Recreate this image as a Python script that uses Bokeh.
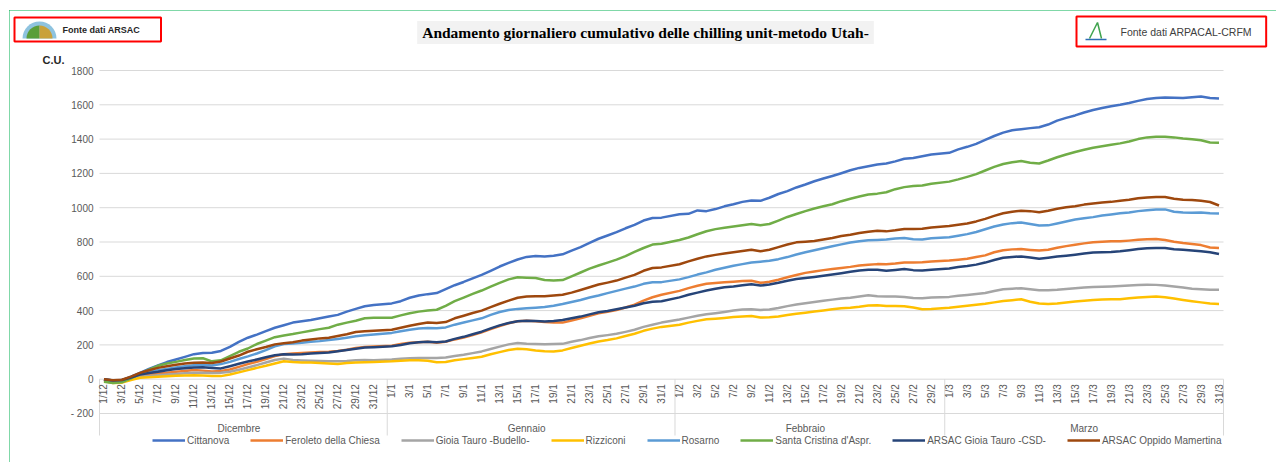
import math
from bokeh.plotting import figure
from bokeh.models import Range1d, Legend, LegendItem, Label
from bokeh.core.properties import value
from bokeh.embed import file_html
from bokeh.resources import INLINE

# ---------------- data ----------------
months = ["Dicembre", "Gennaio", "Febbraio", "Marzo"]
month_num = [12, 1, 2, 3]
month_len = [31, 31, 29, 31]

series_names = ["Cittanova", "Feroleto della Chiesa", "Gioia Tauro -Budello-", "Rizziconi",
                "Rosarno", "Santa Cristina d'Aspr.", "ARSAC Gioia Tauro -CSD-", "ARSAC Oppido Mamertina"]
series_colors = ["#4472C4", "#ED7D31", "#A5A5A5", "#FFC000",
                 "#5B9BD5", "#70AD47", "#264478", "#9E480E"]

cittanova = [0, -8, -5, 15, 37, 60, 80, 100, 115, 130, 146, 153, 154, 165, 189, 218, 242, 260, 280, 300,
             315, 330, 338, 345, 355, 365, 375, 394, 410, 425, 433,
             442, 455, 475, 488, 496, 502, 525, 548, 567, 588, 608, 632, 657, 678, 698, 713, 718, 716, 720,
             728, 750, 770, 795, 819, 838, 858, 880, 900, 925, 940, 942,
             962, 964, 984, 980, 992, 1008, 1020, 1034, 1042, 1040, 1058, 1080, 1097, 1118, 1135, 1154, 1170,
             1185, 1201, 1218, 1232, 1242, 1252, 1258, 1270, 1285, 1290, 1300, 1310,
             1320, 1340, 1355, 1372, 1395, 1418, 1438, 1452, 1458, 1464, 1469, 1485, 1508, 1524, 1538, 1555,
             1570, 1581, 1592, 1600, 1610, 1623, 1634, 1639, 1642, 1641, 1639, 1644, 1648, 1640, 1637]
feroleto = [-3, -15, -12, 5, 18, 26, 33, 38, 43, 48, 53, 50, 45, 48, 57, 72, 88, 102, 118, 135,
            146, 150, 153, 156, 158, 160, 165, 172, 182, 188, 190,
            195, 205, 212, 216, 218, 213, 218, 232, 243, 258, 273, 292, 310, 326, 338, 341, 338, 333, 330,
            330, 342, 355, 370, 384, 393, 403, 418, 435, 458, 478, 492,
            515, 531, 545, 556, 561, 565, 568, 572, 574, 562, 568, 580, 594, 608, 620, 628, 636, 643, 649,
            655, 663, 668, 671, 670, 674, 680, 681, 682, 686,
            692, 697, 702, 712, 722, 740, 752, 757, 759, 754, 750, 755, 766, 776, 784, 792, 798, 802, 805,
            804, 808, 813, 816, 817, 812, 802, 794, 788, 782, 768, 765]
gioia_budello = [-5, -18, -15, 0, 14, 19, 23, 27, 31, 34, 37, 38, 36, 38, 43, 55, 68, 82, 97, 112,
                 120, 112, 109, 107, 106, 105, 104, 106, 110, 112, 110,
                 115, 119, 122, 124, 123, 124, 127, 135, 142, 152, 162, 176, 190, 203, 211, 207, 205, 204,
                 205, 206, 218, 228, 240, 250, 257, 265, 276, 288, 305, 318, 330,
                 348, 359, 370, 379, 385, 392, 400, 406, 408, 404, 406, 415, 426, 435, 443, 450, 458, 464,
                 470, 475, 482, 490, 484, 482, 482, 479, 474, 472, 477,
                 480, 486, 491, 497, 503, 514, 524, 528, 531, 525, 518, 518, 521, 526, 531, 534, 537, 539,
                 541, 543, 546, 549, 551, 550, 547, 541, 535, 528, 524, 521, 521]
rizziconi = [-10, -22, -20, -5, 8, 11, 14, 17, 20, 22, 23, 21, 18, 18, 27, 40, 53, 66, 78, 92,
             105, 100, 98, 97, 95, 92, 88, 94, 97, 99, 100,
             104, 108, 110, 110, 107, 99, 100, 110, 117, 124, 131, 145, 158, 170, 178, 175, 168, 163, 162,
             168, 182, 195, 208, 220, 228, 238, 252, 265, 282, 295, 305,
             318, 330, 340, 349, 353, 357, 362, 366, 369, 360, 361, 366, 374, 382, 388, 395, 401, 408, 414,
             416, 422, 430, 431, 427, 427, 425, 418, 408, 410,
             417, 423, 428, 434, 440, 448, 456, 461, 466, 452, 441, 439, 442, 447, 453, 458, 462, 465, 466,
             466, 472, 477, 480, 482, 478, 470, 462, 455, 448, 441, 439]
rosarno = [-5, -12, -8, 10, 29, 42, 52, 60, 68, 75, 82, 84, 80, 88, 101, 118, 133, 150, 170, 192,
           205, 208, 212, 218, 222, 228, 235, 242, 250, 256, 260,
           270, 280, 288, 295, 298, 297, 302, 318, 331, 343, 355, 375, 392, 403, 410, 414, 417, 421, 428,
           438, 450, 462, 476, 488, 502, 515, 528, 540, 556, 565, 566,
           582, 595, 610, 623, 638, 650, 662, 671, 680, 685, 691, 700, 712, 727, 740, 752, 764, 775, 786,
           797, 805, 810, 812, 815, 820, 823, 816, 815, 822,
           828, 837, 846, 858, 874, 890, 902, 910, 914, 905, 896, 897, 908, 920, 931, 938, 945, 954, 961,
           967, 972, 980, 985, 989, 990, 976, 972, 970, 972, 968, 966]
santa_cristina = [-15, -22, -18, 5, 33, 55, 78, 92, 101, 112, 121, 122, 104, 110, 135, 160, 179, 205, 225, 245,
                  255, 263, 273, 283, 292, 300, 318, 330, 341, 355, 358,
                  358, 372, 385, 394, 400, 405, 428, 455, 476, 497, 517, 540, 562, 582, 594, 592, 590, 578,
                  575, 578, 600, 622, 645, 663, 680, 697, 718, 742, 765, 785, 790,
                  812, 826, 845, 863, 875, 883, 890, 898, 905, 898, 905, 925, 946, 963, 980, 995, 1008, 1020,
                  1038, 1052, 1065, 1077, 1082, 1090, 1108, 1120, 1127, 1130, 1140,
                  1152, 1165, 1180, 1196, 1217, 1238, 1255, 1265, 1272, 1262, 1258, 1275, 1294, 1310, 1325,
                  1338, 1350, 1358, 1367, 1375, 1386, 1400, 1410, 1414, 1414, 1410, 1403, 1399, 1393, 1380, 1378]
arsac_gioia_csd = [0, -8, -5, 10, 27, 36, 43, 52, 59, 64, 68, 69, 66, 63, 76, 90, 103, 115, 128, 140,
                   145, 144, 146, 150, 153, 156, 163, 170, 178, 185, 187,
                   192, 200, 210, 216, 218, 215, 220, 235, 247, 262, 277, 296, 314, 328, 338, 341, 340, 337,
                   340, 345, 355, 365, 378, 390, 398, 408, 418, 428, 443, 452, 455,
                   477, 492, 505, 517, 527, 536, 541, 548, 554, 546, 552, 562, 574, 584, 590, 596, 603, 610,
                   618, 626, 634, 638, 638, 632, 637, 642, 636, 634, 638,
                   645, 654, 660, 668, 680, 695, 708, 713, 716, 710, 702, 708, 715, 720, 726, 733, 739, 740,
                   742, 746, 752, 759, 763, 765, 765, 758, 755, 750, 746, 740, 730]
arsac_oppido = [0, -6, -3, 15, 37, 52, 66, 76, 84, 92, 96, 97, 95, 103, 121, 138, 160, 175, 188, 203,
                210, 216, 225, 232, 238, 242, 252, 262, 275, 280, 282,
                288, 300, 312, 322, 330, 328, 333, 355, 370, 386, 400, 420, 440, 458, 475, 482, 484, 483,
                488, 492, 505, 520, 536, 552, 563, 575, 592, 608, 632, 648, 652,
                670, 687, 702, 716, 725, 733, 740, 748, 755, 746, 755, 770, 785, 798, 802, 806, 815, 823,
                835, 842, 852, 860, 866, 862, 868, 876, 876, 877, 885,
                893, 901, 908, 920, 935, 952, 968, 977, 982, 980, 973, 982, 994, 1002, 1009, 1018, 1025,
                1030, 1034, 1040, 1046, 1055, 1060, 1063, 1062, 1052, 1047, 1045, 1040, 1033, 1013]

series_values = [cittanova, feroleto, gioia_budello, rizziconi,
                 rosarno, santa_cristina, arsac_gioia_csd, arsac_oppido]

y_ticks = [-200, 0, 200, 400, 600, 800, 1000, 1200, 1400, 1600, 1800]
y_tick_labels = ["- 200", "0", "200", "400", "600", "800", "1000", "1200", "1400", "1600", "1800"]

title_text = "Andamento giornaliero cumulativo delle chilling unit-metodo Utah-"
source_left = "Fonte dati ARSAC"
source_right = "Fonte dati ARPACAL-CRFM"
y_unit = "C.U."

# ------------- category positions (one empty slot between months, as in the Excel axis) ----
xs, day_labels = [], []
starts, ends = [], []
slot = 0
for mn, ml in zip(month_num, month_len):
    starts.append(slot)
    for d in range(1, ml + 1):
        xs.append(slot)
        day_labels.append(f"{d}/{mn}")
        slot += 1
    ends.append(slot - 1)
    slot += 1  # gap slot between months

for vals in series_values:
    assert len(vals) == len(xs), len(vals)

boundaries = [s - 0.5 for s in starts] + [ends[-1] + 0.5]
month_centers = [(s + e) / 2 for s, e in zip(starts, ends)]
shown = [(x, lab) for x, lab in zip(xs, day_labels) if int(lab.split("/")[0]) % 2 == 1]

# ------------- geometry (page pixels of the reference) ----------------
PAGE_L, PAGE_T, PAGE_R, PAGE_B = 9, 10, 1276, 462      # canvas box on the page
AREA_L, AREA_R = 99, 1223                             # plot area: first / last category edge
Y_TOP_PX, Y_BOT_PX = 70, 413                          # pixel rows of y_ticks[-1] and y_ticks[0]
W, H = PAGE_R - PAGE_L, PAGE_B - PAGE_T


def ref_x(px):
    return boundaries[0] + (px - AREA_L) * (boundaries[-1] - boundaries[0]) / (AREA_R - AREA_L)


def ref_y(py):
    return y_ticks[-1] - (py - Y_TOP_PX) * (y_ticks[-1] - y_ticks[0]) / (Y_BOT_PX - Y_TOP_PX)


FONT = "Liberation Sans"
TXT = "#595959"
GRID = "#d9d9d9"

p = figure(width=W, height=H, output_backend="svg", toolbar_location=None,
           x_range=Range1d(ref_x(PAGE_L), ref_x(PAGE_R)), y_range=Range1d(ref_y(PAGE_B), ref_y(PAGE_T)),
           x_axis_location=None, y_axis_location=None, min_border=0)
p.background_fill_color = "white"
p.border_fill_color = "white"
p.outline_line_color = None
p.grid.visible = False
p.styles = {"margin-left": f"{PAGE_L}px", "margin-top": f"{PAGE_T}px",
            "outline": "2px solid #00b050", "outline-offset": "-2px"}

x_lo, x_hi = boundaries[0], boundaries[-1]

# horizontal grid lines + value labels
p.segment(x0=[x_lo] * len(y_ticks), y0=y_ticks, x1=[x_hi] * len(y_ticks), y1=y_ticks,
          line_color=GRID, line_width=1)
p.text(x=[x_lo] * len(y_ticks), y=y_ticks, text=y_tick_labels, x_offset=-6,
       text_align="right", text_baseline="middle",
       text_font=value(FONT), text_font_size="10px", text_color=TXT)

# two-level category axis (days / months) hanging from y = 0, as in Excel
sep_bottom = ref_y(435)
p.segment(x0=boundaries, y0=[0] * len(boundaries), x1=boundaries, y1=[sep_bottom] * len(boundaries),
          line_color=GRID, line_width=1)
p.text(x=[s[0] for s in shown], y=[0] * len(shown), text=[s[1] for s in shown],
       angle=math.pi / 2, text_align="right", text_baseline="middle", y_offset=5,
       text_font=value(FONT), text_font_size="10px", text_color=TXT)
p.text(x=month_centers, y=[y_ticks[0]] * len(months), text=months,
       text_align="center", text_baseline="middle", y_offset=15,
       text_font=value(FONT), text_font_size="10px", text_color=TXT)

# series
items = []
for name, vals, col in zip(series_names, series_values, series_colors):
    r = p.line(x=xs, y=vals, line_color=col, line_width=2.5, line_join="round")
    items.append(LegendItem(label=name, renderers=[r]))

legend = Legend(items=items, orientation="horizontal", location=(152 - PAGE_L, PAGE_B - 446),
                glyph_width=33, glyph_height=10, label_height=12, label_standoff=2, spacing=21,
                padding=0, margin=0, border_line_color=None, background_fill_alpha=0,
                label_text_font=FONT, label_text_font_size="10px", label_text_color=TXT)
p.add_layout(legend)

# small logo sketches inside the two source boxes
p.wedge(x=[ref_x(39)], y=[ref_y(38)], radius=17, radius_units="screen",
        start_angle=0, end_angle=math.pi, fill_color="#8ec3df", line_color=None)
p.wedge(x=[ref_x(39)], y=[ref_y(38)], radius=13, radius_units="screen",
        start_angle=math.pi / 2, end_angle=math.pi, fill_color="#5a9e3a", line_color=None)
p.wedge(x=[ref_x(39)], y=[ref_y(38)], radius=13, radius_units="screen",
        start_angle=0, end_angle=math.pi / 2, fill_color="#c9a13a", line_color=None)
p.line(x=[ref_x(1089), ref_x(1097), ref_x(1101)], y=[ref_y(38), ref_y(22), ref_y(38)],
       line_color="#3fa34d", line_width=1.5)
p.line(x=[ref_x(1085), ref_x(1106)], y=[ref_y(39), ref_y(39)], line_color="#2f6db5", line_width=1.5)

# texts around the chart (a left-aligned label's box starts at its anchor)
p.add_layout(Label(x=ref_x(645), y=ref_y(32), text=title_text,
                   text_align="center", text_baseline="middle", text_font="Liberation Serif",
                   text_font_style="bold", text_font_size="15.5px", text_color="#000000",
                   background_fill_color="#f2f2f2", padding=dict(left=5, right=5, top=3, bottom=3)))
p.add_layout(Label(x=ref_x(14), y=ref_y(29), text=source_left,
                   text_align="left", text_baseline="middle", text_font=FONT, text_font_style="bold",
                   text_font_size="9px", text_color="#262626",
                   border_line_color="#ff0000", border_line_width=2,
                   padding=dict(left=48, right=21, top=7, bottom=7)))
p.add_layout(Label(x=ref_x(1076), y=ref_y(31), text=source_right,
                   text_align="left", text_baseline="middle", text_font=FONT,
                   text_font_size="10.5px", text_color="#404040",
                   border_line_color="#ff0000", border_line_width=2,
                   padding=dict(left=44, right=14, top=9, bottom=9)))
p.add_layout(Label(x=ref_x(42), y=ref_y(59), text=y_unit,
                   text_align="left", text_baseline="middle", text_font=FONT, text_font_style="bold",
                   text_font_size="11px", text_color="#262626"))

open("out.html", "w").write(file_html(p, INLINE))
